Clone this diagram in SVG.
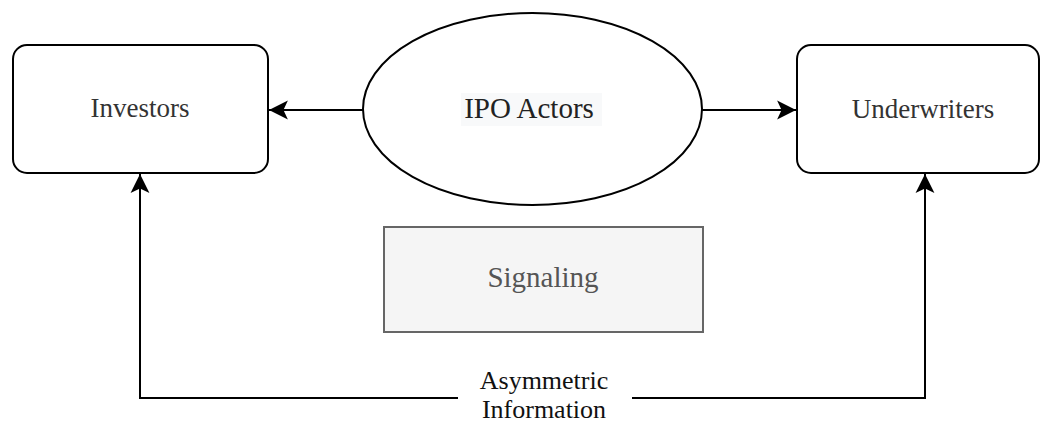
<svg xmlns="http://www.w3.org/2000/svg" width="1041" height="423" viewBox="0 0 1041 423">
<style>
.box{fill:#fff;stroke:#000;stroke-width:2}
.lbl{font-family:"Liberation Serif","Times New Roman",serif;text-anchor:middle}
.ln{fill:none;stroke:#000;stroke-width:2}
</style>
<defs>
<marker id="arr" markerUnits="userSpaceOnUse" markerWidth="20" markerHeight="20" viewBox="0 0 18 18" refX="17" refY="9" orient="auto">
<path d="M0,0.5 L17,9 L0,17.5 L4,9 z" fill="#000"/>
</marker>
</defs>
<rect width="1041" height="423" fill="#fff"/>
<g id="connectors">
<line class="ln" x1="363" y1="110" x2="269" y2="110" marker-end="url(#arr)"/>
<line class="ln" x1="702" y1="110" x2="796" y2="110" marker-end="url(#arr)"/>
<polyline class="ln" points="458,398 140,398 140,174" marker-end="url(#arr)"/>
<polyline class="ln" points="632,398 925,398 925,174" marker-end="url(#arr)"/>
<g id="edge-label">
<text class="lbl" x="544" y="389" font-size="26" fill="#111">Asymmetric</text>
<text class="lbl" x="544" y="418" font-size="26" fill="#111">Information</text>
</g>
</g>
<g id="investors">
<rect class="box" x="13" y="45" width="255" height="128" rx="14"/>
<text class="lbl" x="140" y="117" font-size="27" fill="#333">Investors</text>
</g>
<g id="ipo-actors">
<ellipse class="box" cx="532.5" cy="109" rx="169.5" ry="96"/>
<rect x="461" y="93" width="141" height="33" fill="#f8f9fa"/>
<text class="lbl" x="529" y="118" font-size="29" fill="#222">IPO Actors</text>
</g>
<g id="underwriters">
<rect class="box" x="797" y="45" width="242" height="128" rx="14"/>
<text class="lbl" x="923" y="118" font-size="27" fill="#333">Underwriters</text>
</g>
<g id="signaling">
<rect x="384" y="227" width="319" height="105" fill="#f5f5f5" stroke="#666" stroke-width="2"/>
<text class="lbl" x="543" y="287" font-size="29" fill="#555">Signaling</text>
</g>
</svg>
